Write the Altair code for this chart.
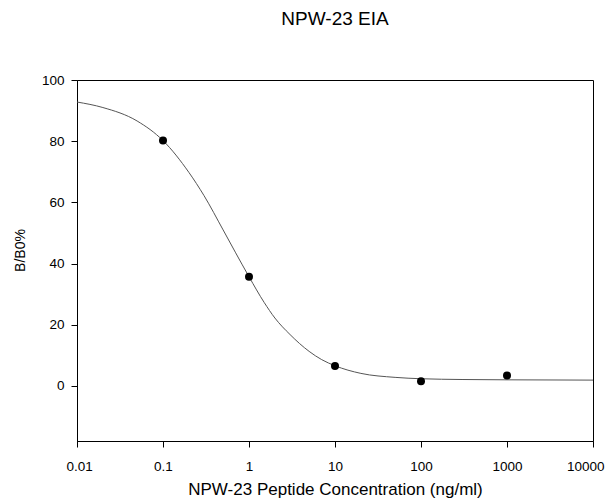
import altair as alt
import pandas as pd

# measured points
conc = [0.1, 1, 10, 100, 1000]
bb0 = [80.2, 35.7, 6.5, 1.5, 3.4]

# fitted curve
curve_x = [0.01, 0.02, 0.05, 0.1, 0.2, 0.3, 0.5, 0.7, 1, 1.5, 2, 3, 5, 7, 10,
           20, 50, 100, 300, 1000, 10000]
curve_y = [92.8, 91.0, 86.6, 80.2, 69.8, 62.2, 51.0, 43.5, 35.7, 27.3, 22.2,
           16.8, 11.3, 8.6, 6.6, 4.1, 2.8, 2.35, 2.1, 2.0, 1.9]

x_ticks = [0.01, 0.1, 1, 10, 100, 1000, 10000]
y_ticks = [0, 20, 40, 60, 80, 100]

pts = pd.DataFrame({"x": conc, "y": bb0})
crv = pd.DataFrame({"x": curve_x, "y": curve_y})

FONT = "Liberation Sans"

xscale = alt.Scale(type="log", domain=[0.01, 10000], nice=False)
yscale = alt.Scale(domain=[-18, 100], nice=False, zero=False)

xaxis = alt.Axis(values=x_ticks, format="~g", grid=False, tickSize=6,
                 labelPadding=12, labelFlush=True, labelFlushOffset=11,
                 labelOverlap=False,
                 title="NPW-23 Peptide Concentration (ng/ml)",
                 titlePadding=9, labelFontSize=13.5, titleFontSize=17,
                 labelFont=FONT, titleFont=FONT, titleFontWeight="normal",
                 domainColor="black", tickColor="black", labelColor="black",
                 titleColor="black")
yaxis = alt.Axis(values=y_ticks, grid=False, tickSize=6, labelPadding=7,
                 title="B/B0%", titlePadding=14, titleY=170,
                 labelFontSize=13.5, titleFontSize=14, labelFont=FONT,
                 titleFont=FONT, titleFontWeight="normal",
                 domainColor="black", tickColor="black", labelColor="black",
                 titleColor="black")

line = alt.Chart(crv).mark_line(color="#555555", strokeWidth=1,
                                interpolate="monotone").encode(
    x=alt.X("x:Q", scale=xscale, axis=xaxis),
    y=alt.Y("y:Q", scale=yscale, axis=yaxis),
)

dots = alt.Chart(pts).mark_circle(color="black", opacity=1, size=64).encode(
    x=alt.X("x:Q", scale=xscale),
    y=alt.Y("y:Q", scale=yscale),
)

chart = (line + dots).properties(
    width=516,
    height=361,
    title=alt.TitleParams("NPW-23 EIA", font=FONT, fontSize=19,
                          fontWeight="normal", color="black", anchor="middle",
                          offset=44),
    autosize=alt.AutoSizeParams(type="none"),
    padding={"left": 69, "top": 72, "right": 12, "bottom": 58},
    background="white",
).configure_view(stroke="black", strokeWidth=1)

chart.save("out.html", embed_options={"renderer": "svg", "actions": False})
